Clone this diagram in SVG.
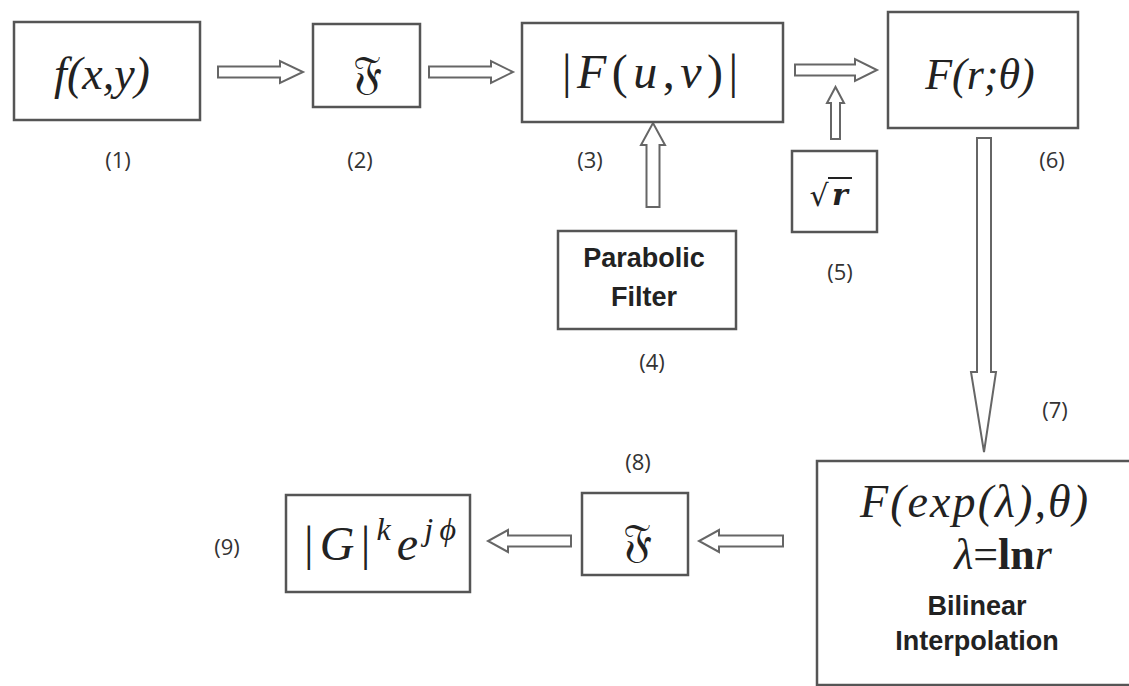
<svg xmlns="http://www.w3.org/2000/svg" width="1129" height="686" viewBox="0 0 1129 686">
<style>
.box{fill:#fff;stroke:#555;stroke-width:2.5}
.arr{fill:#fff;stroke:#666;stroke-width:2;stroke-linejoin:miter}
.lbl{font-family:"Open Sans","Liberation Sans",Arial,sans-serif;font-size:22px;fill:#333;text-anchor:middle}
.math{font-family:"Liberation Serif","Times New Roman",serif;font-style:italic;fill:#222;text-anchor:middle}
.up{font-style:normal}
.sans{font-family:"Liberation Sans",Arial,sans-serif;font-weight:bold;font-size:27px;fill:#222;text-anchor:middle}
.frak{font-family:"DejaVu Serif","DejaVu Sans",serif;font-size:46px;fill:#222;text-anchor:middle}
</style>
<rect width="1129" height="686" fill="#fff"/>
<g id="connectors">
<polygon class="arr" points="218,66.5 280,66.5 280,61 303,72 280,83 280,77.5 218,77.5"/>
<polygon class="arr" points="429,66.5 491,66.5 491,61 513,72 491,83 491,77.5 429,77.5"/>
<polygon class="arr" points="795,64.5 855,64.5 855,59 877,70 855,81 855,75.5 795,75.5"/>
<polygon class="arr" points="646.5,207 646.5,145 641,145 653,123 665,145 659.5,145 659.5,207"/>
<polygon class="arr" points="831,139 831,103 827,103 835.5,87 844,103 840,103 840,139"/>
<polygon class="arr" points="977,138 991,138 991,372 996,372 984,452 971,372 977,372"/>
<polygon class="arr" points="571,535.5 508,535.5 508,530 488,541 508,552 508,546.5 571,546.5"/>
<polygon class="arr" points="783,535.5 719,535.5 719,530 699,541 719,552 719,546.5 783,546.5"/>
</g>
<g id="n1">
<rect class="box" x="14" y="22" width="186" height="98"/>
<text class="math" x="102" y="89" font-size="46">f(x,y)</text>
<text class="lbl" x="118" y="168">(1)</text>
</g>
<g id="n2">
<rect class="box" x="313" y="24" width="107" height="83"/>
<text class="frak" x="367" y="88">𝔉</text>
<text class="lbl" x="360" y="168">(2)</text>
</g>
<g id="n3">
<rect class="box" x="522" y="23" width="261" height="99"/>
<text class="math" x="650" y="88" font-size="48" textLength="176" lengthAdjust="spacing"><tspan class="up">|</tspan>F<tspan class="up">(</tspan>u<tspan class="up">,</tspan>v<tspan class="up">)|</tspan></text>
<text class="lbl" x="590" y="168">(3)</text>
</g>
<g id="n4">
<rect class="box" x="558" y="231" width="178" height="98"/>
<text class="sans" x="644" y="267">Parabolic</text>
<text class="sans" x="644" y="306">Filter</text>
<text class="lbl" x="652" y="370">(4)</text>
</g>
<g id="n5">
<rect class="box" x="792" y="151" width="85" height="81"/>
<text x="819" y="206" font-family="DejaVu Serif,serif" font-size="30" fill="#222" text-anchor="middle">√</text>
<line x1="828" y1="178" x2="852" y2="178" stroke="#222" stroke-width="2"/>
<text x="840" y="205" font-family="DejaVu Serif,serif" font-style="italic" font-weight="bold" font-size="30" fill="#222" text-anchor="middle">r</text>
<text class="lbl" x="840" y="280">(5)</text>
</g>
<g id="n6">
<rect class="box" x="888" y="12" width="190" height="116"/>
<text class="math" x="980" y="89" font-size="44">F(r;θ)</text>
<text class="lbl" x="1052" y="168">(6)</text>
</g>
<g id="n7">
<rect class="box" x="817" y="461" width="320" height="224"/>
<text class="math" x="974" y="517" font-size="46" textLength="228" lengthAdjust="spacing">F(exp(λ),θ)</text>
<text class="math" x="1003" y="569" font-size="44">λ<tspan class="up">=</tspan><tspan class="up" font-weight="bold">ln</tspan>r</text>
<text class="sans" x="977" y="615">Bilinear</text>
<text class="sans" x="977" y="650">Interpolation</text>
<text class="lbl" x="1055" y="418">(7)</text>
</g>
<g id="n8">
<rect class="box" x="582" y="493" width="106" height="82"/>
<text class="frak" x="637" y="556">𝔉</text>
<text class="lbl" x="638" y="470">(8)</text>
</g>
<g id="n9">
<rect class="box" x="286" y="495" width="184" height="97"/>
<text class="math" x="380" y="560" font-size="48" textLength="152" lengthAdjust="spacing"><tspan class="up">|</tspan>G<tspan class="up">|</tspan><tspan font-size="32" dy="-20">k</tspan><tspan dy="20">e</tspan><tspan font-size="32" dy="-20">jϕ</tspan></text>
<text class="lbl" x="227" y="555">(9)</text>
</g>
</svg>
